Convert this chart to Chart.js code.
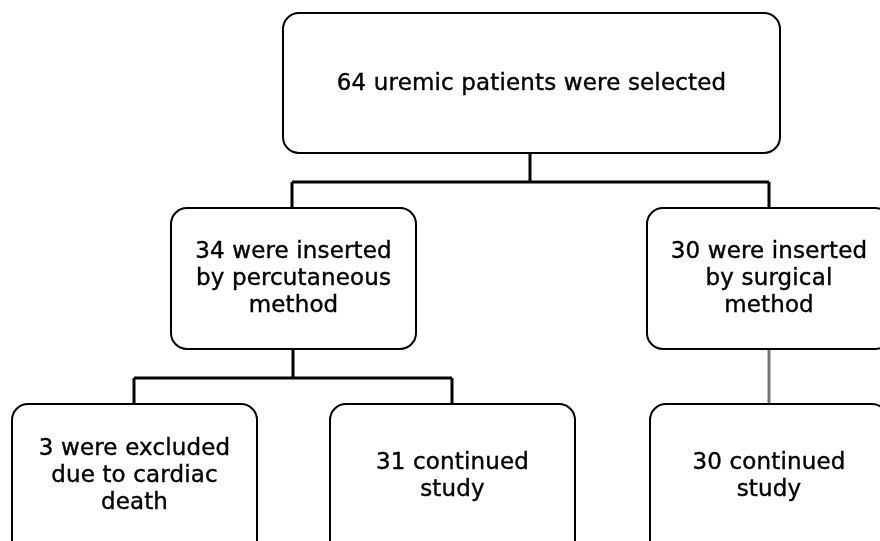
<!DOCTYPE html>
<html>
<head>
<meta charset="utf-8">
<script src="https://cdn.jsdelivr.net/npm/chart.js@4/dist/chart.umd.min.js"></script>
<style>
  html, body { margin: 0; padding: 0; background: #fff; }
  #wrap { width: 880px; height: 541px; }
</style>
</head>
<body>
<div id="wrap"><canvas id="fluxo"></canvas></div>
<script>
// textos das caixas (linhas)
const caixasTexto = [
  ['64 uremic patients were selected'],
  ['34 were inserted', 'by percutaneous', 'method'],
  ['30 were inserted', 'by surgical', 'method'],
  ['3 were excluded', 'due to cardiac', 'death'],
  ['31 continued', 'study'],
  ['30 continued', 'study']
];
// caixas: [esquerda, topo, direita, base] em coordenadas do desenho
const caixasPos = [
  [283, 13, 780, 153],
  [171, 208, 416, 349],
  [647, 208, 891, 349],
  [12, 404, 257, 560],
  [330, 404, 575, 560],
  [650, 404, 888, 560]
];
// centro vertical da primeira linha de texto
const textoY = [84, 252, 252, 449, 463, 463];
// ligações (x, y) - null separa os segmentos
const ligX = [530, 530, null, 292, 769, null, 292, 292, null, 769, 769, null,
              293, 293, null, 134, 452, null, 134, 134, null, 452, 452];
const ligY = [153, 182, null, 182, 182, null, 182, 208, null, 182, 208, null,
              349, 378, null, 378, 378, null, 378, 404, null, 378, 404];
const ligCinzaX = [769, 769];
const ligCinzaY = [349, 404];

function pontos(xs, ys) {
  return xs.map((x, i) => (x === null ? { x: NaN, y: NaN } : { x, y: ys[i] }));
}

const caixasPlugin = {
  id: 'caixas',
  afterDatasetsDraw(chart) {
    const { ctx, scales } = chart;
    const sx = v => scales.x.getPixelForValue(v);
    const sy = v => scales.y.getPixelForValue(v);
    ctx.save();
    caixasPos.forEach((c, i) => {
      const x0 = sx(c[0]), y0 = sy(c[1]), x1 = sx(c[2]), y1 = sy(c[3]);
      ctx.beginPath();
      ctx.roundRect(x0, y0, x1 - x0, y1 - y0, 16);
      ctx.fillStyle = '#fff';
      ctx.fill();
      ctx.lineWidth = 2;
      ctx.strokeStyle = '#000';
      ctx.stroke();

      const linhas = caixasTexto[i];
      const cx = (x0 + x1) / 2;
      ctx.fillStyle = '#000';
      ctx.strokeStyle = '#000';
      ctx.lineWidth = 0.4;
      ctx.textAlign = 'center';
      ctx.textBaseline = 'middle';
      ctx.font = '23px "DejaVu Sans", sans-serif';
      ctx.letterSpacing = '0.15px';
      linhas.forEach((t, k) => {
        const y = sy(textoY[i] + k * 27);
        ctx.fillText(t, cx, y);
        ctx.strokeText(t, cx, y); // engrossa um pouco o traço
      });
    });
    ctx.restore();
  }
};

new Chart(document.getElementById('fluxo'), {
  type: 'scatter',
  data: {
    datasets: [
      {
        data: pontos(ligX, ligY),
        showLine: true,
        spanGaps: false,
        borderColor: '#000',
        borderWidth: 3,
        pointRadius: 0
      },
      {
        data: pontos(ligCinzaX, ligCinzaY),
        showLine: true,
        borderColor: '#777',
        borderWidth: 3,
        pointRadius: 0
      }
    ]
  },
  options: {
    responsive: true,
    maintainAspectRatio: false,
    animation: false,
    layout: { padding: 0 },
    scales: {
      x: { type: 'linear', min: 0, max: 880, display: false },
      y: { type: 'linear', min: 0, max: 541, reverse: true, display: false }
    },
    plugins: { legend: { display: false }, tooltip: { enabled: false } }
  },
  plugins: [caixasPlugin]
});
</script>
</body>
</html>
